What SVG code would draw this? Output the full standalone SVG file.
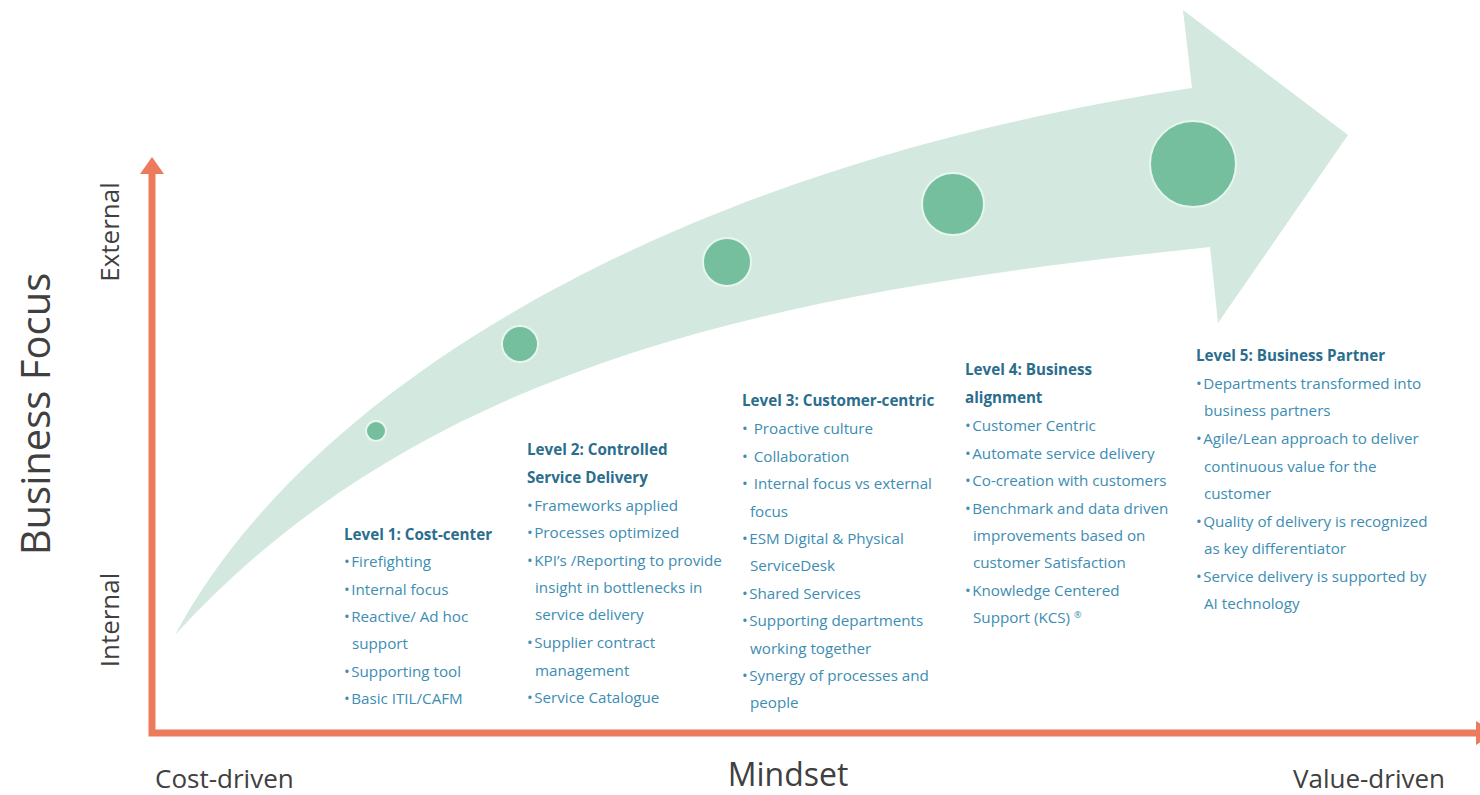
<svg xmlns="http://www.w3.org/2000/svg" width="1480" height="795" viewBox="0 0 1480 795">
<style>
.h{font-family:"Open Sans","Liberation Sans",sans-serif;font-weight:700;font-size:15.2px;fill:#2b6d8d}
.b{font-family:"Open Sans","Liberation Sans",sans-serif;font-size:15.2px;fill:#3d8db2}
.ax{font-family:"Open Sans","Liberation Sans",sans-serif;font-weight:400;fill:#404040}
.dot{fill:#76bf9e;stroke:#e6f6ee;stroke-width:2}
</style>
<rect width="1480" height="795" fill="#ffffff"/>
<g id="big-arrow">
<path d="M175,635 C300,400 650,170 1192,88 L1183,10 L1348,135 L1218,323 L1210,247 C800,290 430,355 175,635 Z" fill="#d3e9df"/>
</g>
<g id="connectors">
<path d="M152,736 V172 M148.5,733 H1478" stroke="#ec7a5c" stroke-width="7" fill="none"/>
<polygon points="140,174 164,174 152,157" fill="#ec7a5c"/>
<polygon points="1476,721 1476,745 1496,733" fill="#ec7a5c"/>
</g>
<g id="dots">
<circle class="dot" cx="376" cy="431" r="10"/>
<circle class="dot" cx="520" cy="344" r="18"/>
<circle class="dot" cx="727" cy="262" r="24"/>
<circle class="dot" cx="953" cy="204" r="31"/>
<circle class="dot" cx="1193" cy="164" r="43"/>
</g>
<g id="axis-labels">
<text class="ax" font-size="40" transform="translate(50,414) rotate(-90)" text-anchor="middle">Business Focus</text>
<text class="ax" font-size="26" transform="translate(119,232) rotate(-90)" text-anchor="middle">External</text>
<text class="ax" font-size="26" transform="translate(119,620) rotate(-90)" text-anchor="middle">Internal</text>
<text class="ax" font-size="26" x="155" y="788">Cost-driven</text>
<text class="ax" font-size="32" x="788" y="786" text-anchor="middle">Mindset</text>
<text class="ax" font-size="26" x="1445" y="788" text-anchor="end">Value-driven</text>
</g>
<g id="level1">
<text class="h" x="344" y="540">Level 1: Cost-center</text>
<text class="b" x="344" y="567">•<tspan dx="1.5">Firefighting</tspan></text>
<text class="b" x="344" y="594.5">•<tspan dx="1.5">Internal focus</tspan></text>
<text class="b" x="344" y="622">•<tspan dx="1.5">Reactive/ Ad hoc</tspan></text>
<text class="b" x="352" y="649">support</text>
<text class="b" x="344" y="676.5">•<tspan dx="1.5">Supporting tool</tspan></text>
<text class="b" x="344" y="704">•<tspan dx="1.5">Basic ITIL/CAFM</tspan></text>
</g>
<g id="level2">
<text class="h" x="527" y="455">Level 2: Controlled</text>
<text class="h" x="527" y="482.5">Service Delivery</text>
<text class="b" x="527" y="511">•<tspan dx="1.5">Frameworks applied</tspan></text>
<text class="b" x="527" y="538">•<tspan dx="1.5">Processes optimized</tspan></text>
<text class="b" x="527" y="566">•<tspan dx="1.5">KPI’s /Reporting to provide</tspan></text>
<text class="b" x="535" y="593">insight in bottlenecks in</text>
<text class="b" x="535" y="620">service delivery</text>
<text class="b" x="527" y="648">•<tspan dx="1.5">Supplier contract</tspan></text>
<text class="b" x="535" y="675.5">management</text>
<text class="b" x="527" y="703">•<tspan dx="1.5">Service Catalogue</tspan></text>
</g>
<g id="level3">
<text class="h" x="742" y="406">Level 3: Customer-centric</text>
<text class="b" x="742" y="433.5">•<tspan dx="6">Proactive culture</tspan></text>
<text class="b" x="742" y="461.5">•<tspan dx="6">Collaboration</tspan></text>
<text class="b" x="742" y="489">•<tspan dx="6">Internal focus vs external</tspan></text>
<text class="b" x="750" y="516.5">focus</text>
<text class="b" x="742" y="543.5">•<tspan dx="1.5">ESM Digital &amp; Physical</tspan></text>
<text class="b" x="750" y="571">ServiceDesk</text>
<text class="b" x="742" y="599">•<tspan dx="1.5">Shared Services</tspan></text>
<text class="b" x="742" y="626">•<tspan dx="1.5">Supporting departments</tspan></text>
<text class="b" x="750" y="653.5">working together</text>
<text class="b" x="742" y="681">•<tspan dx="1.5">Synergy of processes and</tspan></text>
<text class="b" x="750" y="708">people</text>
</g>
<g id="level4">
<text class="h" x="965" y="375">Level 4: Business</text>
<text class="h" x="965" y="402.5">alignment</text>
<text class="b" x="965" y="431">•<tspan dx="1.5">Customer Centric</tspan></text>
<text class="b" x="965" y="458.5">•<tspan dx="1.5">Automate service delivery</tspan></text>
<text class="b" x="965" y="486">•<tspan dx="1.5">Co-creation with customers</tspan></text>
<text class="b" x="965" y="513.5">•<tspan dx="1.5">Benchmark and data driven</tspan></text>
<text class="b" x="973" y="541">improvements based on</text>
<text class="b" x="973" y="568">customer Satisfaction</text>
<text class="b" x="965" y="596">•<tspan dx="1.5">Knowledge Centered</tspan></text>
<text class="b" x="973" y="623">Support (KCS) <tspan font-size="9" dy="-5">®</tspan></text>
</g>
<g id="level5">
<text class="h" x="1196" y="361">Level 5: Business Partner</text>
<text class="b" x="1196" y="388.5">•<tspan dx="1.5">Departments transformed into</tspan></text>
<text class="b" x="1204" y="416">business partners</text>
<text class="b" x="1196" y="444">•<tspan dx="1.5">Agile/Lean approach to deliver</tspan></text>
<text class="b" x="1204" y="471.5">continuous value for the</text>
<text class="b" x="1204" y="498.5">customer</text>
<text class="b" x="1196" y="526.5">•<tspan dx="1.5">Quality of delivery is recognized</tspan></text>
<text class="b" x="1204" y="553.5">as key differentiator</text>
<text class="b" x="1196" y="581.5">•<tspan dx="1.5">Service delivery is supported by</tspan></text>
<text class="b" x="1204" y="608.5">AI technology</text>
</g>
</svg>
